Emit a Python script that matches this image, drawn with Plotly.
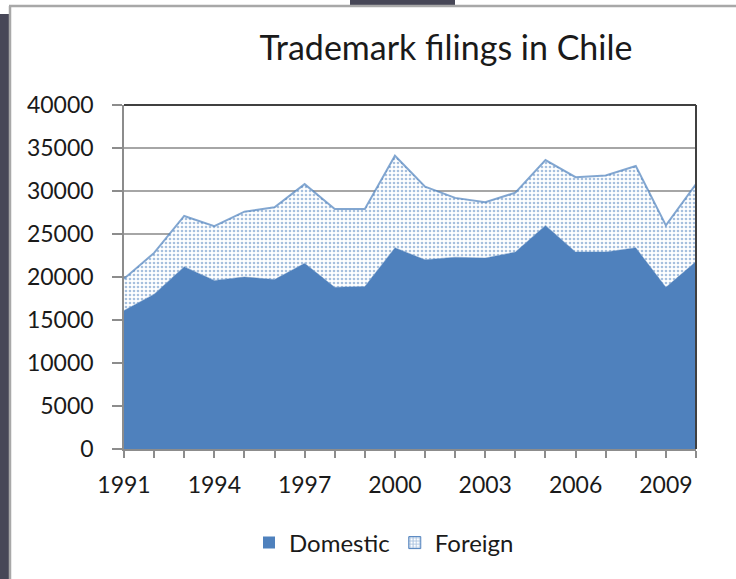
import plotly.graph_objects as go

years = list(range(1991, 2011))
domestic = [16100, 18000, 21200, 19600, 20000, 19700, 21600, 18800, 18900, 23400,
            22000, 22300, 22200, 22900, 26000, 22900, 22900, 23400, 18800, 21800]
total = [19800, 22800, 27100, 25900, 27600, 28100, 30800, 27900, 27900, 34100,
         30500, 29200, 28700, 29800, 33600, 31600, 31800, 32900, 26000, 30800]
foreign = [t - d for t, d in zip(total, domestic)]
tick_labels = [str(y) if (y - 1991) % 3 == 0 else "" for y in years]

W, H = 736, 579
L, R, T, B = 124, 696, 105, 449


def px(x):
    return (x - L) / (R - L)


def py(y):
    return (B - y) / (B - T)


BLUE = "#4F81BD"
FONT = "Lato"
TXT = "#1a1a1a"

fig = go.Figure()
fig.add_trace(go.Scatter(
    x=years, y=domestic, name="Domestic", mode="lines", stackgroup="one",
    line=dict(width=0.5, color=BLUE), fillcolor=BLUE, showlegend=False,
))
fig.add_trace(go.Scatter(
    x=years, y=foreign, name="Foreign", mode="lines", stackgroup="one",
    line=dict(width=2, color="rgba(79,129,189,0.7)"),
    fillcolor="white", showlegend=False,
    fillpattern=dict(shape=".", fgcolor=BLUE, bgcolor="white", size=4, solidity=0.35),
))
# legend entries (square swatches like the reference)
fig.add_trace(go.Bar(x=[None], y=[None], name="Domestic",
                     marker=dict(color=BLUE, line=dict(width=0))))
fig.add_trace(go.Bar(x=[None], y=[None], name="Foreign",
                     marker=dict(color="white", line=dict(color=BLUE, width=1),
                                 pattern=dict(shape="+", fgcolor=BLUE, bgcolor="white",
                                              size=4, solidity=0.5))))

shapes = [
    # window chrome
    dict(type="rect", xref="paper", yref="paper", x0=px(0), x1=px(9), y0=py(14), y1=py(579),
         fillcolor="#474757", line=dict(width=0), layer="above"),
    dict(type="rect", xref="paper", yref="paper", x0=px(350), x1=px(455), y0=py(0), y1=py(5),
         fillcolor="#474757", line=dict(width=0), layer="above"),
    dict(type="line", xref="paper", yref="paper", x0=px(9), x1=px(736), y0=py(6), y1=py(6),
         line=dict(color="#a8a8a8", width=2.5), layer="above"),
    dict(type="line", xref="paper", yref="paper", x0=px(10), x1=px(10), y0=py(6), y1=py(579),
         line=dict(color="#a8a8a8", width=2.5), layer="above"),
    # dark top and right borders of plot area
    dict(type="line", xref="paper", yref="paper", x0=0, x1=1, y0=1, y1=1,
         line=dict(color="#404040", width=2), layer="above"),
    dict(type="line", xref="paper", yref="paper", x0=1, x1=1, y0=0, y1=1,
         line=dict(color="#404040", width=2), layer="above"),
]

fig.update_layout(
    width=W, height=H,
    margin=dict(l=L, r=W - R, t=T, b=H - B, autoexpand=False),
    paper_bgcolor="white", plot_bgcolor="white",
    title=dict(text="Trademark filings in Chile", x=446 / W, xref="container", xanchor="center",
               y=1 - 48 / H, yref="container", yanchor="middle",
               font=dict(family=FONT, size=34, color=TXT)),
    font=dict(family=FONT, size=23, color=TXT),
    showlegend=True,
    legend=dict(orientation="h", x=px(384), xanchor="center", y=py(543), yanchor="middle",
                font=dict(family=FONT, size=24, color=TXT),
                itemwidth=30, traceorder="normal", bgcolor="rgba(0,0,0,0)"),
    xaxis=dict(
        range=[1991, 2010], tickmode="array", tickvals=years, ticktext=tick_labels,
        showgrid=False, zeroline=False, showline=True, linecolor="#8c8c8c", linewidth=1.5,
        ticks="outside", ticklen=7, tickcolor="#8c8c8c", tickwidth=1.5,
        ticklabelstandoff=8,
        tickfont=dict(family=FONT, size=23, color=TXT),
    ),
    yaxis=dict(
        range=[0, 40000], tickmode="linear", tick0=0, dtick=5000, tickformat="d",
        showgrid=True, gridcolor="#a6a6a6", gridwidth=1.5, zeroline=False,
        showline=True, linecolor="#8c8c8c", linewidth=1.5,
        ticks="outside", ticklen=10, tickcolor="#8c8c8c", tickwidth=1.5,
        ticklabelstandoff=14,
        tickfont=dict(family=FONT, size=23, color=TXT),
    ),
    shapes=shapes,
)

fig.write_html("out.html", config={"displayModeBar": False},
               post_script="document.body.style.margin='0';document.body.style.overflow='hidden';")
